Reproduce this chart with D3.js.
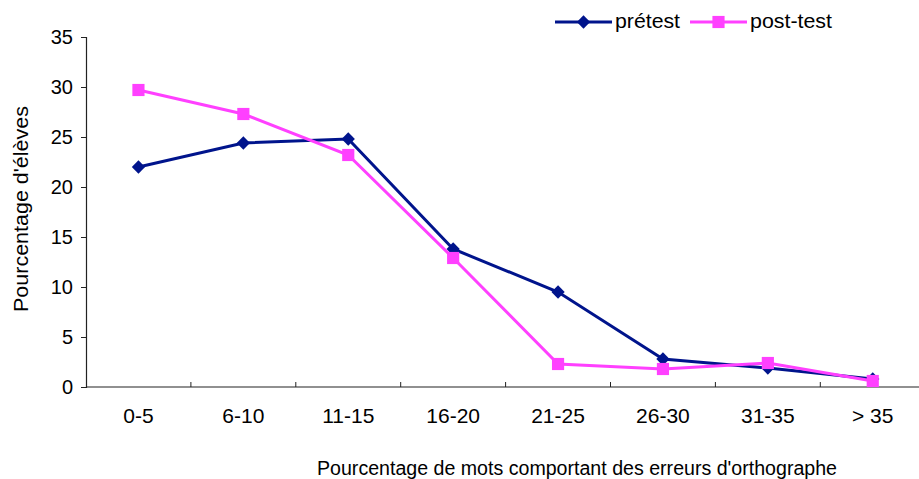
<!DOCTYPE html>
<html>
<head>
<meta charset="utf-8">
<script src="https://cdn.jsdelivr.net/npm/d3@7"></script>
<style>
  html, body { margin: 0; padding: 0; background: #fff; }
  svg { display: block; font-family: "Liberation Sans", Arial, sans-serif; }
</style>
</head>
<body>
<svg id="chart" width="919" height="479"></svg>
<script>
// Share of pupils by percentage of misspelled words
const categories = ["0-5", "6-10", "11-15", "16-20", "21-25", "26-30", "31-35", "> 35"];
const pretest = [22.0, 24.4, 24.8, 13.8, 9.5, 2.8, 1.9, 0.8];
const posttest = [29.7, 27.3, 23.2, 12.9, 2.3, 1.8, 2.4, 0.6];
const yTicks = [0, 5, 10, 15, 20, 25, 30, 35];
const seriesNames = ["prétest", "post-test"];

const svg = d3.select("#chart");
const plotLeft = 86, plotTop = 37, plotBottom = 387;
const band = 104.9;
const plotRight = plotLeft + band * categories.length;
const fontFamily = "Liberation Sans, Arial, sans-serif";

const x = d3.scaleBand().domain(categories).range([plotLeft, plotRight]);
const y = d3.scaleLinear().domain([0, 35]).range([plotBottom, plotTop]);

const axisColor = "#222";
const diamondSize = 88, squareSize = 148;

// y axis
const yAxis = svg.append("g").attr("transform", `translate(${plotLeft},0)`)
  .call(d3.axisLeft(y).tickValues(yTicks).tickSize(5).tickPadding(8));
yAxis.attr("font-family", fontFamily);
yAxis.select(".domain").attr("stroke", axisColor).attr("stroke-width", 1.2);
yAxis.selectAll(".tick line").attr("stroke", axisColor);
yAxis.selectAll(".tick text").attr("font-size", 20).attr("fill", "#000");

// x axis: category separators point inward
const xAxis = svg.append("g").attr("transform", `translate(0,${plotBottom})`);
xAxis.append("line").attr("x1", plotLeft).attr("x2", plotRight).attr("y1", 0).attr("y2", 0)
  .attr("stroke", axisColor).attr("stroke-width", 1.2);
xAxis.selectAll("line.sep").data(categories.slice(1)).join("line")
  .attr("class", "sep")
  .attr("x1", d => x(d)).attr("x2", d => x(d))
  .attr("y1", 0).attr("y2", -5)
  .attr("stroke", axisColor);
xAxis.selectAll("text").data(categories).join("text")
  .attr("x", d => x(d) + x.bandwidth() / 2)
  .attr("y", 36)
  .attr("text-anchor", "middle")
  .attr("font-size", 21)
  .attr("fill", "#000")
  .text(d => d);

// axis titles
svg.append("text")
  .attr("x", 577).attr("y", 475)
  .attr("text-anchor", "middle")
  .attr("font-size", 20)
  .attr("textLength", 520)
  .attr("lengthAdjust", "spacingAndGlyphs")
  .text("Pourcentage de mots comportant des erreurs d'orthographe");

svg.append("text")
  .attr("transform", "translate(28,209) rotate(-90)")
  .attr("text-anchor", "middle")
  .attr("font-size", 21)
  .attr("textLength", 206)
  .attr("lengthAdjust", "spacingAndGlyphs")
  .text("Pourcentage d'élèves");

// series
const blue = "#00148c", pink = "#ff40ff";
const line = d3.line()
  .x((d, i) => x(categories[i]) + x.bandwidth() / 2)
  .y(d => y(d));

function drawSeries(values, color, diamond) {
  const g = svg.append("g");
  g.append("path").datum(values)
    .attr("d", line)
    .attr("fill", "none")
    .attr("stroke", color)
    .attr("stroke-width", 3);
  const sym = d3.symbol().type(d3.symbolSquare).size(diamond ? diamondSize : squareSize);
  g.selectAll("path.m").data(values).join("path")
    .attr("class", "m")
    .attr("d", sym)
    .attr("transform", (d, i) => `translate(${x(categories[i]) + x.bandwidth() / 2},${y(d)})${diamond ? " rotate(45)" : ""}`)
    .attr("fill", color);
}

drawSeries(pretest, blue, true);
drawSeries(posttest, pink, false);

// legend
const legend = svg.append("g");
const legendItems = [
  { name: seriesNames[0], color: blue, diamond: true, x0: 555, w: 65 },
  { name: seriesNames[1], color: pink, diamond: false, x0: 690, w: 82 }
];
legendItems.forEach(it => {
  const ly = 22;
  legend.append("line").attr("x1", it.x0).attr("x2", it.x0 + 57)
    .attr("y1", ly).attr("y2", ly)
    .attr("stroke", it.color).attr("stroke-width", 3);
  legend.append("path")
    .attr("d", d3.symbol().type(d3.symbolSquare).size(it.diamond ? diamondSize : squareSize))
    .attr("transform", `translate(${it.x0 + 28.5},${ly})${it.diamond ? " rotate(45)" : ""}`)
    .attr("fill", it.color);
  legend.append("text").attr("x", it.x0 + 60).attr("y", ly + 6)
    .attr("font-size", 21).attr("fill", "#000")
    .attr("textLength", it.w).attr("lengthAdjust", "spacingAndGlyphs")
    .text(it.name);
});
</script>
</body>
</html>
